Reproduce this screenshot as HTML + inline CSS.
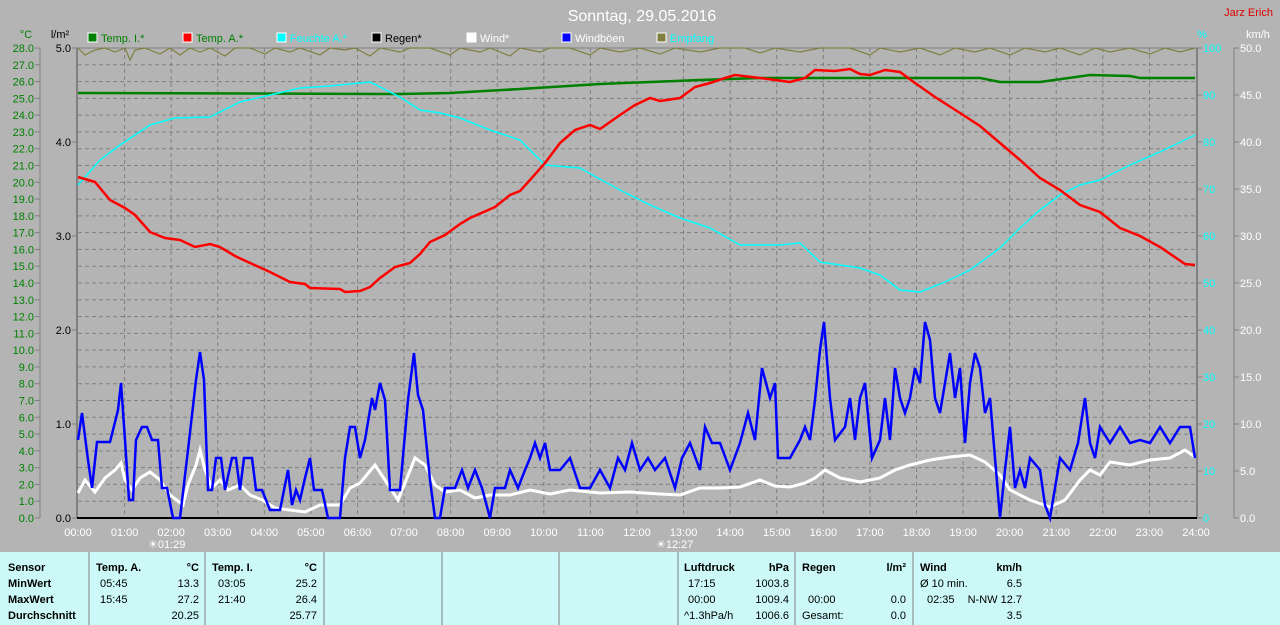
<!DOCTYPE html>
<html><head><meta charset="utf-8"><style>
body{margin:0;width:1280px;height:625px;background:#b4b4b4;overflow:hidden;font-family:"Liberation Sans",sans-serif}
svg{position:absolute;left:0;top:0}
</style></head><body>
<svg width="1280" height="625" xmlns="http://www.w3.org/2000/svg" font-family="Liberation Sans, sans-serif">
<rect width="1280" height="625" fill="#b4b4b4"/>
<text x="642" y="21" fill="#fff" font-size="16" text-anchor="middle">Sonntag, 29.05.2016</text>
<text x="1273" y="16" fill="#e00000" font-size="11" text-anchor="end">Jarz Erich</text>
<!-- legend -->
<g font-size="11">
<rect x="88" y="33" width="9" height="9" fill="#008000" stroke="#fff"/><text x="101" y="42" fill="#008000">Temp. I.*</text>
<rect x="183" y="33" width="9" height="9" fill="#f00" stroke="#fff"/><text x="196" y="42" fill="#008000">Temp. A.*</text>
<rect x="277" y="33" width="9" height="9" fill="#0ff" stroke="#fff"/><text x="290" y="42" fill="#0ff">Feuchte A.*</text>
<rect x="372" y="33" width="9" height="9" fill="#000" stroke="#fff"/><text x="385" y="42" fill="#000">Regen*</text>
<rect x="467" y="33" width="9" height="9" fill="#fff" stroke="#fff"/><text x="480" y="42" fill="#fff">Wind*</text>
<rect x="562" y="33" width="9" height="9" fill="#00f" stroke="#fff"/><text x="575" y="42" fill="#fff">Windböen</text>
<rect x="657" y="33" width="9" height="9" fill="#808040" stroke="#fff"/><text x="670" y="42" fill="#0ff">Empfang</text>
</g>
<text x="26" y="38" fill="#008000" font-size="11" text-anchor="middle">°C</text>
<text x="60" y="38" fill="#000" font-size="11" text-anchor="middle">l/m²</text>
<text x="1202" y="38" fill="#0ff" font-size="11" text-anchor="middle">%</text>
<text x="1258" y="38" fill="#fff" font-size="11" text-anchor="middle">km/h</text>
<!-- grid -->
<g stroke="#808080" stroke-dasharray="4,3" stroke-width="1" id="grid"></g>
<line x1="40" y1="48" x2="40" y2="518" stroke="#808080"/>
<line x1="77" y1="48" x2="77" y2="518" stroke="#808080" stroke-width="2"/>
<line x1="1197" y1="48" x2="1197" y2="518" stroke="#808080" stroke-width="2"/>
<line x1="1234" y1="48" x2="1234" y2="518" stroke="#808080"/>
<line x1="77" y1="48" x2="1197" y2="48" stroke="#808080"/>
<line x1="77" y1="518" x2="1197" y2="518" stroke="#000" stroke-width="2"/>
<g id="axes" font-size="11"></g>
<!-- series -->
<polyline fill="none" stroke="#808040" stroke-width="1.2" points="78,48 85,55 95,50 105,48 115,52 125,48 130,60 135,50 145,48 160,54 170,48 180,55 190,48 200,52 210,48 225,56 235,48 250,48 265,54 275,48 290,52 300,48 320,55 330,48 345,50 355,48 370,56 380,48 400,52 410,48 430,48 450,55 460,48 480,52 490,48 510,56 520,48 540,52 550,48 570,48 590,55 600,48 620,52 640,48 660,54 675,48 700,52 720,48 745,48 760,53 775,48 800,52 820,48 850,48 870,55 880,48 900,52 920,48 940,55 955,48 975,52 990,48 1010,55 1025,48 1045,52 1060,48 1080,55 1095,48 1110,52 1130,48 1150,54 1165,48 1180,52 1195,48"/>
<polyline fill="none" stroke="#008000" stroke-width="2.5" points="78,93 400,94 450,93 520,89 600,84 700,80 760,78 980,78 1000,82 1040,82 1090,75 1130,76 1140,78 1195,78"/>
<polyline fill="none" stroke="#0ff" stroke-width="1.5" points="78,185 100,160 120,145 150,125 175,118 210,117 240,102 270,95 300,88 330,86 370,82 400,97 420,110 440,113 460,118 490,130 520,140 545,165 580,168 605,182 620,190 650,205 680,218 710,228 740,245 780,245 800,243 820,262 860,268 880,275 900,290 920,292 945,282 970,270 1000,248 1020,228 1040,210 1060,195 1080,185 1100,180 1130,165 1160,152 1195,135"/>
<polyline fill="none" stroke="#f00" stroke-width="2.5" points="78,177 95,182 110,200 125,208 135,215 150,232 165,238 180,240 195,247 210,244 220,247 235,256 250,263 270,272 290,282 305,284 310,288 340,289 345,292 360,291 370,287 380,278 395,267 410,263 420,254 430,242 445,235 460,224 470,218 495,207 510,195 520,191 530,180 545,163 560,143 575,130 590,125 600,129 620,115 635,105 650,98 660,101 680,98 695,87 710,83 725,78 735,75 760,78 790,82 805,78 815,70 835,71 850,69 860,74 870,75 885,70 900,72 915,83 935,97 960,113 980,126 1000,143 1020,160 1040,178 1060,190 1080,205 1100,212 1120,228 1140,236 1160,247 1185,264 1195,265"/>
<polyline fill="none" stroke="#fff" stroke-width="3" points="78,493 85,480 95,492 105,478 115,470 121,463 125,480 132,490 140,478 150,472 160,480 170,495 183,505 188,485 196,465 200,450 205,470 212,488 220,480 228,490 240,485 250,495 262,500 275,508 290,510 305,512 320,505 340,505 350,488 360,483 375,465 385,480 398,500 405,483 415,458 425,465 435,485 445,492 460,490 475,498 490,495 510,495 530,490 550,494 570,490 600,493 630,492 660,494 680,495 700,488 720,488 740,487 760,480 775,486 790,487 805,483 815,478 825,470 840,478 860,482 880,478 895,470 910,465 930,460 950,457 970,455 985,462 1000,475 1010,490 1030,500 1050,507 1065,500 1080,480 1090,470 1100,475 1110,462 1130,465 1150,460 1170,458 1185,450 1195,457"/>
<polyline fill="none" stroke="#00f" stroke-width="2.5" points="78,440 82,413 88,460 92,488 97,442 110,442 118,410 121,383 125,440 129,500 133,500 136,440 142,427 147,427 152,440 158,440 162,488 167,488 173,518 180,518 188,450 196,380 200,352 204,380 208,490 212,490 216,458 221,458 225,490 232,458 236,458 240,490 244,458 252,458 256,490 262,490 270,510 280,510 288,470 292,505 296,490 300,500 305,478 310,458 314,490 322,490 328,518 340,518 345,458 350,427 355,427 360,458 365,440 372,398 375,410 380,383 385,400 390,490 400,490 408,400 414,353 418,395 423,410 430,480 435,518 440,518 445,488 455,488 462,470 468,488 475,470 482,488 490,518 495,488 505,488 510,470 518,488 525,470 530,458 535,443 540,458 545,443 550,470 560,470 570,458 580,488 590,488 600,470 610,488 618,458 625,470 632,443 640,470 648,458 655,470 665,458 675,488 682,458 690,443 700,470 705,427 712,443 720,443 730,470 740,443 748,413 755,440 762,368 770,398 775,383 778,458 790,458 800,440 805,427 810,440 815,400 820,350 824,322 830,398 835,440 845,427 850,398 855,440 860,398 865,383 872,458 880,440 885,398 890,440 895,368 900,398 905,413 910,398 915,368 920,383 925,322 930,340 935,398 940,413 945,383 950,353 955,398 960,368 965,443 970,383 975,353 980,368 985,413 990,398 995,458 1000,518 1005,470 1010,427 1015,488 1020,470 1025,488 1030,458 1040,470 1045,505 1050,518 1055,488 1060,458 1070,470 1078,443 1085,398 1090,443 1095,458 1100,427 1110,443 1120,427 1130,443 1140,440 1150,443 1160,427 1170,443 1180,427 1190,427 1195,458"/>
<g font-size="11" fill="#fff">
<text x="148" y="548">☀01:29</text><text x="656" y="548">☀12:27</text>
</g>
<!-- panel -->
<rect x="0" y="552" width="1280" height="73" fill="#ccf8f8"/>
<g stroke="#808080"><line x1="89" y1="552" x2="89" y2="625"/><line x1="205" y1="552" x2="205" y2="625"/><line x1="324" y1="552" x2="324" y2="625"/><line x1="442" y1="552" x2="442" y2="625"/><line x1="559" y1="552" x2="559" y2="625"/><line x1="678" y1="552" x2="678" y2="625"/><line x1="795" y1="552" x2="795" y2="625"/><line x1="913" y1="552" x2="913" y2="625"/></g>
<g font-size="11" fill="#000">
<g font-weight="bold"><text x="8" y="571">Sensor</text><text x="8" y="587">MinWert</text><text x="8" y="603">MaxWert</text><text x="8" y="619">Durchschnitt</text>
<text x="96" y="571">Temp. A.</text><text x="199" y="571" text-anchor="end">°C</text>
<text x="212" y="571">Temp. I.</text><text x="317" y="571" text-anchor="end">°C</text>
<text x="684" y="571">Luftdruck</text><text x="789" y="571" text-anchor="end">hPa</text>
<text x="802" y="571">Regen</text><text x="906" y="571" text-anchor="end">l/m²</text>
<text x="920" y="571">Wind</text><text x="1022" y="571" text-anchor="end">km/h</text></g>
<text x="100" y="587">05:45</text><text x="199" y="587" text-anchor="end">13.3</text>
<text x="100" y="603">15:45</text><text x="199" y="603" text-anchor="end">27.2</text>
<text x="199" y="619" text-anchor="end">20.25</text>
<text x="218" y="587">03:05</text><text x="317" y="587" text-anchor="end">25.2</text>
<text x="218" y="603">21:40</text><text x="317" y="603" text-anchor="end">26.4</text>
<text x="317" y="619" text-anchor="end">25.77</text>
<text x="688" y="587">17:15</text><text x="789" y="587" text-anchor="end">1003.8</text>
<text x="688" y="603">00:00</text><text x="789" y="603" text-anchor="end">1009.4</text>
<text x="684" y="619">^1.3hPa/h</text><text x="789" y="619" text-anchor="end">1006.6</text>
<text x="808" y="603">00:00</text><text x="906" y="603" text-anchor="end">0.0</text>
<text x="802" y="619">Gesamt:</text><text x="906" y="619" text-anchor="end">0.0</text>
<text x="920" y="587">Ø 10 min.</text><text x="1022" y="587" text-anchor="end">6.5</text>
<text x="927" y="603">02:35</text><text x="1022" y="603" text-anchor="end">N-NW 12.7</text>
<text x="1022" y="619" text-anchor="end">3.5</text>
</g>
</svg>
<script>
var ns="http://www.w3.org/2000/svg";
function el(p,t,a,txt){var e=document.createElementNS(ns,t);for(var k in a)e.setAttribute(k,a[k]);if(txt!==undefined)e.textContent=txt;p.appendChild(e);return e;}
var g=document.getElementById("grid"),ax=document.getElementById("axes");
for(var i=1;i<28;i++){var y=518-i*470/28;el(g,"line",{x1:78,y1:y,x2:1196,y2:y});}
for(var h=1;h<24;h++){var x=78+h*1118/24;el(g,"line",{x1:x,y1:48,x2:x,y2:518});}
for(var i=0;i<=28;i++){var y=518-i*470/28;el(ax,"text",{x:34,y:y+4,fill:"#008000","text-anchor":"end"},i.toFixed(1));el(ax,"line",{x1:35,y1:y,x2:40,y2:y,stroke:"#808080"});}
for(var i=0;i<=5;i++){var y=518-i*94;el(ax,"text",{x:71,y:y+4,fill:"#000","text-anchor":"end"},i.toFixed(1));el(ax,"line",{x1:72,y1:y,x2:77,y2:y,stroke:"#808080"});}
for(var i=0;i<=10;i++){var y=518-i*47;el(ax,"text",{x:1203,y:y+4,fill:"#0ff"},String(i*10));el(ax,"line",{x1:1197,y1:y,x2:1202,y2:y,stroke:"#808080"});el(ax,"text",{x:1240,y:y+4,fill:"#fff"},(i*5).toFixed(1));el(ax,"line",{x1:1234,y1:y,x2:1239,y2:y,stroke:"#808080"});}
for(var h=0;h<=24;h++){var x=78+h*1118/24;el(ax,"text",{x:x,y:536,fill:"#fff","text-anchor":"middle"},(h<10?"0":"")+h+":00");}
</script>
</body></html>
